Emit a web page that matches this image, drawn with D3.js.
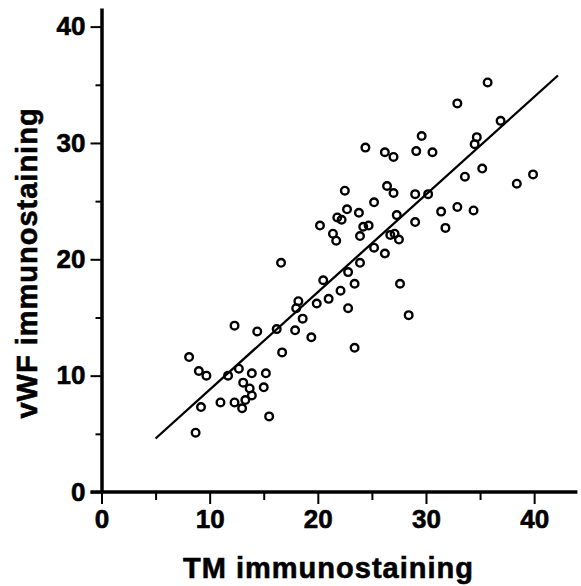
<!DOCTYPE html>
<html>
<head>
<meta charset="utf-8">
<script src="https://cdn.jsdelivr.net/npm/d3@7"></script>
<style>
    body { margin: 0; background: #fff; }
    text { font-family: "Liberation Sans", Arial, sans-serif; font-weight: bold; fill: #000; stroke: #000; stroke-width: 0.6px; }
</style>
</head>
<body>
<div id="chart"></div>
<script>
// values
const tmValues = [8.1, 9.0, 9.7, 11.7, 12.7, 13.9, 15.2, 13.1, 13.7, 15.0, 13.9, 13.3, 12.3, 11.0, 13.0, 9.2, 15.5, 8.7,
    12.3, 14.4, 16.2, 17.9, 18.6, 19.4, 18.0, 18.2, 19.9, 16.7, 16.6, 20.5, 21.0, 22.1, 22.8, 23.4, 23.9, 22.8, 23.4,
    27.6, 28.4, 25.2, 26.2, 23.9, 21.4, 21.7, 24.2, 24.7, 20.2, 21.8, 22.2, 22.7, 23.8, 22.5, 25.2, 26.7, 27.1, 27.5,
    27.3, 29.0, 26.4, 27.0, 29.0, 30.2, 31.4, 31.8, 32.9, 34.4, 33.6, 35.2, 38.4, 39.9, 34.5, 34.7, 36.9, 32.9, 35.7,
    29.6, 29.1, 30.6, 24.4, 26.2, 27.0];
const vwfValues = [11.6, 10.4, 10.0, 10.0, 10.6, 10.2, 10.2, 9.4, 8.9, 9.0, 8.3, 7.9, 7.7, 7.7, 7.2, 7.3, 6.5, 5.1,
    14.3, 13.8, 14.0, 13.9, 14.9, 13.3, 15.8, 16.4, 16.2, 12.0, 19.7, 18.2, 16.6, 17.3, 18.9, 17.9, 19.7, 15.8, 12.4,
    17.9, 15.2, 21.0, 20.5, 22.0, 22.2, 21.6, 22.8, 22.9, 22.9, 23.6, 23.4, 24.3, 24.0, 25.9, 24.9, 22.1, 22.2, 21.7,
    23.8, 23.2, 26.3, 25.7, 25.6, 25.6, 24.1, 22.7, 24.5, 24.2, 27.1, 27.8, 26.5, 27.3, 29.9, 30.5, 31.9, 33.4, 35.2,
    30.6, 29.3, 29.2, 29.6, 29.2, 28.8];

// regression line ends
const fitTM = [5.0, 42.2];
const fitVWF = [4.6, 35.8];

const majorTicks = [0, 10, 20, 30, 40];
const minorTicks = [5, 15, 25, 35];

function renderScatter() {
    const svgWidth = 581, svgHeight = 586;

    const x = d3.scaleLinear().domain([0, 44]).range([101.5, 577.4]);
    const y = d3.scaleLinear().domain([0, 41.6]).range([492, 8]);

    const svg = d3.select('#chart')
        .append('svg')
        .attr('width', svgWidth)
        .attr('height', svgHeight);

    // minor ticks first, no labels
    svg.append('g')
        .attr('transform', `translate(0,${y(0)})`)
        .call(d3.axisBottom(x).tickValues(minorTicks).tickSize(8).tickSizeOuter(0).tickFormat(''))
        .call(g => g.select('.domain').remove());
    svg.append('g')
        .attr('transform', `translate(${x(0)},0)`)
        .call(d3.axisLeft(y).tickValues(minorTicks).tickSize(6).tickSizeOuter(0).tickFormat(''))
        .call(g => g.select('.domain').remove());

    const xAxis = svg.append('g')
        .attr('transform', `translate(0,${y(0)})`)
        .call(d3.axisBottom(x).tickValues(majorTicks).tickSize(12).tickSizeOuter(0).tickPadding(6));
    xAxis.selectAll('text').style('font-size', '26px').attr('dy', '0.71em');

    const yAxis = svg.append('g')
        .attr('transform', `translate(${x(0)},0)`)
        .call(d3.axisLeft(y).tickValues(majorTicks).tickSize(11).tickSizeOuter(0).tickPadding(5));
    yAxis.selectAll('text').style('font-size', '26px');

    svg.selectAll('.tick line').attr('stroke', '#000').attr('stroke-width', 2);
    svg.selectAll('.domain').attr('stroke', '#000').attr('stroke-width', 3.5);

    // x-axis domain reaches past the y axis a little, like the scan
    xAxis.select('.domain').attr('d', `M${x(0) - 11},0H${x(44)}`);

    svg.append('line')
        .attr('x1', x(fitTM[0])).attr('y1', y(fitVWF[0]))
        .attr('x2', x(fitTM[1])).attr('y2', y(fitVWF[1]))
        .attr('stroke', '#000')
        .attr('stroke-width', 2.3);

    svg.append('g')
        .selectAll('circle')
        .data(tmValues.map((d, i) => [d, vwfValues[i]]))
        .enter()
        .append('circle')
        .attr('cx', d => x(d[0]))
        .attr('cy', d => y(d[1]))
        .attr('r', 3.8)
        .attr('fill', 'none')
        .attr('stroke', '#000')
        .attr('stroke-width', 2.4);

    svg.append('text')
        .attr('x', 328.5)
        .attr('y', 578)
        .attr('text-anchor', 'middle')
        .style('font-size', '29px')
        .style('letter-spacing', '1px')
        .text('TM  immunostaining');

    svg.append('text')
        .attr('transform', 'translate(37,263) rotate(-90)')
        .attr('text-anchor', 'middle')
        .style('font-size', '29px')
        .style('letter-spacing', '1px')
        .text('vWF immunostaining');
}

window.onload = renderScatter;
</script>
</body>
</html>
